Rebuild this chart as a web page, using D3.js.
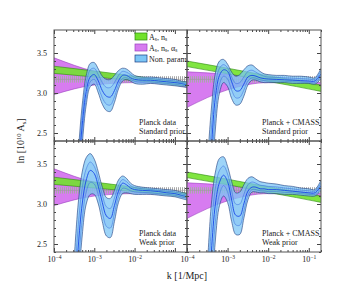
<!DOCTYPE html>
<html><head><meta charset="utf-8">
<script src="https://cdn.jsdelivr.net/npm/d3@7"></script>
<style>body{margin:0;background:#fff} text{font-family:"Liberation Serif","DejaVu Serif",serif;fill:#222}</style>
</head><body><svg id="c" width="360" height="300"></svg>
<script>
// k grid of the non-parametric reconstruction [1/Mpc]
const kGrid = [3.16e-4,3.98e-4,5.01e-4,6.31e-4,7.94e-4,1.0e-3,1.26e-3,1.58e-3,2.0e-3,2.51e-3,3.16e-3,3.98e-3,5.01e-3,6.31e-3,7.94e-3,1.0e-2,1.58e-2,2.51e-2,3.98e-2,6.31e-2,0.1,0.141,0.2];
// Planck data, standard prior
const midTL = [1.3,1.95,2.6,3.02,3.2,3.23,3.15,3.03,2.96,2.95,3.03,3.15,3.22,3.22,3.19,3.17,3.16,3.16,3.15,3.14,3.13,3.12,3.10];
const lo1TL = [1.13,1.81,2.47,2.93,3.14,3.17,3.07,2.94,2.86,2.85,2.95,3.10,3.18,3.19,3.17,3.145,3.135,3.14,3.13,3.12,3.11,3.10,3.085];
const hi1TL = [1.47,2.1,2.73,3.12,3.29,3.31,3.23,3.13,3.07,3.07,3.13,3.22,3.27,3.26,3.23,3.195,3.18,3.18,3.17,3.16,3.15,3.135,3.12];
const lo2TL = [1.0,1.7,2.35,2.85,3.08,3.11,3.0,2.86,2.78,2.77,2.88,3.05,3.15,3.17,3.15,3.12,3.11,3.12,3.11,3.10,3.09,3.08,3.07];
const hi2TL = [1.6,2.25,2.85,3.22,3.37,3.38,3.30,3.21,3.17,3.17,3.22,3.28,3.31,3.30,3.26,3.22,3.20,3.20,3.19,3.18,3.17,3.15,3.14];
// Planck + CMASS, standard prior
const midTR = [1.4,2.3,2.95,3.22,3.29,3.27,3.14,3.03,3.03,3.11,3.20,3.22,3.21,3.19,3.18,3.175,3.17,3.165,3.16,3.155,3.15,3.15,3.24];
const lo1TR = [1.1,2.0,2.75,3.11,3.21,3.175,3.035,2.94,2.945,3.035,3.15,3.19,3.185,3.165,3.155,3.15,3.15,3.145,3.14,3.135,3.135,3.13,3.21];
const hi1TR = [1.75,2.55,3.1,3.31,3.355,3.315,3.20,3.12,3.13,3.20,3.27,3.285,3.26,3.23,3.21,3.20,3.195,3.19,3.185,3.18,3.175,3.17,3.275];
const lo2TR = [0.8,1.7,2.55,3.0,3.13,3.08,2.93,2.85,2.86,2.96,3.10,3.16,3.16,3.14,3.13,3.13,3.13,3.13,3.12,3.12,3.12,3.11,3.18];
const hi2TR = [2.1,2.8,3.25,3.40,3.42,3.36,3.26,3.21,3.23,3.29,3.34,3.35,3.31,3.27,3.24,3.23,3.22,3.22,3.21,3.21,3.20,3.19,3.31];
// Planck data, weak prior
const midBL = [1.6,2.45,3.0,3.3,3.42,3.38,3.22,3.02,2.85,2.82,2.98,3.16,3.26,3.24,3.20,3.18,3.17,3.165,3.155,3.14,3.13,3.11,3.09];
const lo1BL = [1.25,2.18,2.8,3.15,3.27,3.25,3.11,2.9,2.72,2.70,2.88,3.09,3.195,3.19,3.165,3.15,3.145,3.14,3.13,3.12,3.11,3.09,3.07];
const hi1BL = [1.95,2.72,3.2,3.44,3.525,3.47,3.31,3.115,2.965,2.945,3.075,3.23,3.305,3.28,3.23,3.205,3.19,3.18,3.17,3.16,3.15,3.13,3.11];
const lo2BL = [0.9,1.9,2.6,3.0,3.12,3.12,3.0,2.78,2.6,2.58,2.78,3.02,3.13,3.14,3.13,3.12,3.12,3.12,3.11,3.10,3.09,3.07,3.05];
const hi2BL = [2.3,3.0,3.4,3.58,3.63,3.56,3.40,3.21,3.08,3.07,3.17,3.30,3.35,3.32,3.26,3.23,3.21,3.20,3.19,3.18,3.17,3.15,3.13];
// Planck + CMASS, weak prior
const midBR = [1.5,2.4,3.0,3.27,3.36,3.28,3.05,2.86,2.85,3.0,3.16,3.21,3.21,3.19,3.19,3.18,3.18,3.17,3.16,3.15,3.14,3.14,3.23];
const lo1BR = [1.1,2.05,2.78,3.12,3.23,3.15,2.915,2.74,2.735,2.91,3.105,3.18,3.18,3.165,3.165,3.155,3.155,3.145,3.14,3.13,3.12,3.12,3.20];
const hi1BR = [1.85,2.7,3.2,3.42,3.475,3.375,3.165,3.0,3.0,3.12,3.24,3.275,3.26,3.235,3.23,3.22,3.215,3.2,3.19,3.175,3.165,3.16,3.265];
const lo2BR = [0.7,1.7,2.55,2.98,3.1,3.02,2.78,2.62,2.62,2.82,3.05,3.15,3.15,3.14,3.14,3.13,3.13,3.12,3.12,3.11,3.10,3.10,3.17];
const hi2BR = [2.2,3.0,3.4,3.57,3.59,3.47,3.28,3.14,3.15,3.24,3.32,3.34,3.31,3.28,3.27,3.26,3.25,3.23,3.22,3.20,3.19,3.18,3.30];
// power-law bands
const kPL = [1e-4,1e-3,1e-2,0.05,0.2];
const greenLoP = [3.245,3.20,3.155,3.12,3.08];
const greenHiP = [3.335,3.275,3.21,3.165,3.135];
const magLoP = [2.98,3.10,3.13,3.12,3.07];
const magHiP = [3.44,3.27,3.19,3.15,3.13];
const greenLoC = [3.33,3.24,3.145,3.08,3.02];
const greenHiC = [3.40,3.31,3.215,3.155,3.10];
const magLoC = [2.82,3.04,3.13,3.13,3.08];
const magHiC = [3.265,3.235,3.19,3.16,3.13];
// prior band
const priorBand = [3.13,3.21];
const yTicks = [2.5,3.0,3.5];
const xTicks = [1e-4,1e-3,1e-2,1e-1];
const legendLabels = [["A","s",", n","s",""],["A","s",", n","s",", α","s"],["Non. param."]];

const svg = d3.select("#c");
const defs = svg.append("defs");
const pat = defs.append("pattern").attr("id","hatch").attr("width",2).attr("height",20).attr("patternUnits","userSpaceOnUse");
pat.append("rect").attr("x",0).attr("y",0).attr("width",1).attr("height",20).attr("fill","#a8a8a8");

const panels = [
  {id:"TL",x0:54,x1:187,y0:30,y1:141,mid:midTL,lo1:lo1TL,hi1:hi1TL,lo2:lo2TL,hi2:hi2TL,gl:greenLoP,gh:greenHiP,ml:magLoP,mh:magHiP,yl:true,xlab:[],txt:["Planck data","Standard prior"],tx:139,leg:true},
  {id:"TR",x0:187,x1:321,y0:30,y1:141,mid:midTR,lo1:lo1TR,hi1:hi1TR,lo2:lo2TR,hi2:hi2TR,gl:greenLoC,gh:greenHiC,ml:magLoC,mh:magHiC,yl:false,xlab:[],txt:["Planck + CMASS","Standard prior"],tx:262},
  {id:"BL",x0:54,x1:187,y0:141,y1:252,mid:midBL,lo1:lo1BL,hi1:hi1BL,lo2:lo2BL,hi2:hi2BL,gl:greenLoP,gh:greenHiP,ml:magLoP,mh:magHiP,yl:true,xlab:[1e-4,1e-3,1e-2],txt:["Planck data","Weak prior"],tx:139},
  {id:"BR",x0:187,x1:321,y0:141,y1:252,mid:midBR,lo1:lo1BR,hi1:hi1BR,lo2:lo2BR,hi2:hi2BR,gl:greenLoC,gh:greenHiC,ml:magLoC,mh:magHiC,yl:false,xlab:[1e-4,1e-3,1e-2,1e-1],txt:["Planck + CMASS","Weak prior"],tx:262}
];

const minorX = [];
for (let e=-4;e<=-1;e++) for (let m=2;m<=9;m++){const v=m*Math.pow(10,e); if(v<=0.2) minorX.push(v);}
const minorY = d3.range(24,38).map(d=>d/10).filter(v=>!yTicks.some(t=>Math.abs(t-v)<1e-6));

panels.forEach(p=>{
  const x = d3.scaleLog().domain([1e-4,0.2]).range([p.x0,p.x1]);
  const y = d3.scaleLinear().domain([2.4,3.7875]).range([p.y1,p.y0]);
  const g = svg.append("g");
  const clip = defs.append("clipPath").attr("id","clip"+p.id);
  clip.append("rect").attr("x",p.x0).attr("y",p.y0).attr("width",p.x1-p.x0).attr("height",p.y1-p.y0);
  const pg = g.append("g").attr("clip-path",`url(#clip${p.id})`);

  const plArea = (lo,hi)=>d3.area().x((d,i)=>x(kPL[i])).y0((d,i)=>y(lo[i])).y1((d,i)=>y(hi[i])).curve(d3.curveMonotoneX)(kPL);
  const plLine = (arr)=>d3.line().x((d,i)=>x(kPL[i])).y((d,i)=>y(arr[i])).curve(d3.curveMonotoneX)(kPL);

  // magenta
  pg.append("path").attr("d",plArea(p.ml,p.mh)).attr("fill","#d77cf0");
  pg.append("path").attr("d",plLine(p.ml)).attr("fill","none").attr("stroke","#9a3fc0").attr("stroke-width",0.6);
  pg.append("path").attr("d",plLine(p.mh)).attr("fill","none").attr("stroke","#9a3fc0").attr("stroke-width",0.6);
  // prior hatch band
  pg.append("rect").attr("x",p.x0).attr("width",p.x1-p.x0).attr("y",y(priorBand[1])).attr("height",y(priorBand[0])-y(priorBand[1])).attr("fill","url(#hatch)");
  pg.append("line").attr("x1",p.x0).attr("x2",p.x1).attr("y1",y((priorBand[0]+priorBand[1])/2)).attr("y2",y((priorBand[0]+priorBand[1])/2)).attr("stroke","#999").attr("stroke-width",0.6);
  // green
  pg.append("path").attr("d",plArea(p.gl,p.gh)).attr("fill","#72e22c").attr("opacity",0.9);
  pg.append("path").attr("d",plLine(p.gl)).attr("fill","none").attr("stroke","#2d8a10").attr("stroke-width",0.6);
  pg.append("path").attr("d",plLine(p.gh)).attr("fill","none").attr("stroke","#2d8a10").attr("stroke-width",0.6);

  const cv = d3.curveCatmullRom.alpha(0.5);
  const area = (lo,hi)=>d3.area().x((d,i)=>x(kGrid[i])).y0((d,i)=>y(lo[i])).y1((d,i)=>y(hi[i])).curve(cv)(kGrid);
  const line = (arr)=>d3.line().x((d,i)=>x(kGrid[i])).y((d,i)=>y(arr[i])).curve(cv)(kGrid);
  pg.append("path").attr("d",area(p.lo2,p.hi2)).attr("fill","#7cc6f6").attr("opacity",0.75);
  pg.append("path").attr("d",area(p.lo1,p.hi1)).attr("fill","#4a90ea").attr("opacity",0.12);
  [p.lo2,p.hi2].forEach(a=>pg.append("path").attr("d",line(a)).attr("fill","none").attr("stroke","#1c3a80").attr("stroke-width",0.6));
  [p.lo1,p.hi1].forEach(a=>pg.append("path").attr("d",line(a)).attr("fill","none").attr("stroke","#3a6ee0").attr("stroke-width",0.55));
  pg.append("path").attr("d",line(p.mid)).attr("fill","none").attr("stroke","#1846e6").attr("stroke-width",0.9);

  // axes (inward ticks)
  const ax = (gen,tr)=>{const a=g.append("g").attr("transform",tr).call(gen); a.select(".domain").remove(); a.selectAll("line").attr("stroke","#444"); return a;};
  ax(d3.axisBottom(x).tickValues(minorX).tickSize(-2).tickFormat(""),`translate(0,${p.y1})`);
  ax(d3.axisTop(x).tickValues(minorX).tickSize(-2).tickFormat(""),`translate(0,${p.y0})`);
  ax(d3.axisTop(x).tickValues(xTicks).tickSize(-4).tickFormat(""),`translate(0,${p.y0})`);
  const xb = ax(d3.axisBottom(x).tickValues(xTicks).tickSize(-4).tickPadding(4).tickFormat(d=>p.xlab.includes(d)?"10":""),`translate(0,${p.y1})`);
  xb.selectAll("text").attr("font-size",8).attr("fill","#222").attr("font-family","Liberation Serif").each(function(d){
    if(!p.xlab.includes(d)) return;
    d3.select(this).append("tspan").attr("font-size",5.5).attr("dy","-0.55em").text("−"+Math.round(-Math.log10(d)));
  });
  ax(d3.axisLeft(y).tickValues(minorY).tickSize(-2).tickFormat(""),`translate(${p.x0},0)`);
  ax(d3.axisRight(y).tickValues(minorY).tickSize(-2).tickFormat(""),`translate(${p.x1},0)`);
  ax(d3.axisRight(y).tickValues(yTicks).tickSize(-4).tickFormat(""),`translate(${p.x1},0)`);
  const yl = ax(d3.axisLeft(y).tickValues(yTicks).tickSize(-4).tickPadding(7).tickFormat(p.yl?d3.format(".1f"):""),`translate(${p.x0},0)`);
  yl.selectAll("text").attr("font-size",8).attr("fill","#222").attr("font-family","Liberation Serif");

  g.append("rect").attr("x",p.x0).attr("y",p.y0).attr("width",p.x1-p.x0).attr("height",p.y1-p.y0).attr("fill","none").attr("stroke","#555").attr("stroke-width",1);

  g.append("text").attr("x",p.tx).attr("y",p.y1-16).attr("font-size",8).text(p.txt[0]);
  g.append("text").attr("x",p.tx).attr("y",p.y1-7).attr("font-size",8).text(p.txt[1]);

  if(p.leg){
    const cols=[["#72e22c","#2d8a10"],["#d77cf0","#9a3fc0"],["#7cc6f6","#1c3a80"]];
    legendLabels.forEach((lab,i)=>{
      const yy=33+i*11;
      g.append("rect").attr("x",135).attr("y",yy).attr("width",12).attr("height",7).attr("fill",cols[i][0]).attr("stroke",cols[i][1]).attr("stroke-width",0.7);
      const t=g.append("text").attr("x",149).attr("y",yy+6.5).attr("font-size",8);
      lab.forEach((s,j)=>{
        if(j%2===1) t.append("tspan").attr("font-size",5.5).attr("dy","0.25em").text(s);
        else {const ts=t.append("tspan").text(s); if(j>0) ts.attr("dy","-0.17em");}
      });
    });
  }
});

// axis titles
svg.append("text").attr("x",187).attr("y",279).attr("text-anchor","middle").attr("font-size",10).text("k [1/Mpc]");
const yt = svg.append("text").attr("transform","translate(24,141) rotate(-90)").attr("text-anchor","middle").attr("font-size",10);
yt.append("tspan").text("ln [10");
yt.append("tspan").attr("font-size",6.5).attr("dy","-0.45em").text("10");
yt.append("tspan").attr("dy","0.3em").text(" A");
yt.append("tspan").attr("font-size",6.5).attr("dy","0.25em").text("s");
yt.append("tspan").attr("dy","-0.15em").text("]");
</script></body></html>
